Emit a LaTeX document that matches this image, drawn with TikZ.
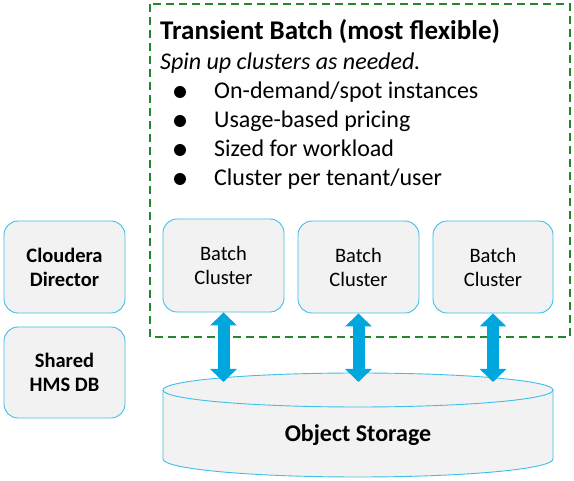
\documentclass[tikz,border=0pt]{standalone}
\usepackage{fontspec}
\setmainfont{Carlito}
\usetikzlibrary{arrows.meta}
\definecolor{boxline}{HTML}{3DBFE8}
\definecolor{boxfill}{HTML}{F2F2F2}
\definecolor{arrowblue}{HTML}{00A6DE}
\definecolor{dashgreen}{HTML}{24872E}
\tikzset{
  rbox/.style={draw=boxline, fill=boxfill, line width=0.9pt, rounded corners=14pt, inner sep=0pt, align=center},
  boxfont/.style={font=\fontsize{20.5}{24}\selectfont},
  boxbold/.style={font=\fontsize{20.5}{24}\selectfont\bfseries},
  biarrow/.style={draw=arrowblue, line width=12pt, {Triangle[width=26pt,length=13pt]}-{Triangle[width=26pt,length=13pt]}},
  bul/.style={anchor=base west, inner sep=0pt, font=\fontsize{24}{28}\selectfont},
  dot/.style={circle, fill=black, inner sep=0pt, minimum size=12pt}
}
\begin{document}
\begin{tikzpicture}[x=1pt,y=-1pt]
\useasboundingbox (0,0) rectangle (574,481);
% dashed group
\draw[dashgreen, line width=1.8pt, dash pattern=on 8pt off 5pt] (150,4) rectangle (570,337);
\node[anchor=base west, inner sep=0pt, font=\fontsize{27}{32}\selectfont\bfseries] (title) at (160,40) {Transient Batch (most flexible)};
\node[anchor=base west, inner sep=0pt, font=\fontsize{24}{28}\selectfont\itshape] (sub) at (160,70) {Spin up clusters as needed.};
\foreach \i/\t/\y in {1/On-demand\slash spot instances/99, 2/Usage-based pricing/128, 3/Sized for workload/157, 4/Cluster per tenant\slash user/186}{
  \node[dot] (dot\i) at (180,\y-7) {};
  \node[bul] (item\i) at (214,\y) {\t};
}
% left boxes
\node[rbox, boxbold, minimum width=121pt, minimum height=92pt] (cd) at (64.5,267) {Cloudera\\Director};
\node[rbox, boxbold, minimum width=121pt, minimum height=91pt] (hms) at (64.5,372.5) {Shared\\HMS DB};
% batch clusters
\node[rbox, boxfont, minimum width=121pt, minimum height=93pt] (b1) at (223.5,265.5) {Batch\\Cluster};
\node[rbox, boxfont, minimum width=121pt, minimum height=92pt] (b2) at (358.5,267) {Batch\\Cluster};
\node[rbox, boxfont, minimum width=120pt, minimum height=92pt] (b3) at (493,267) {Batch\\Cluster};
% object storage cylinder
\fill[boxfill] (163,390) -- (163,459) arc (180:0:195 and 18) -- (553,390) -- cycle;
\draw[boxline, line width=0.9pt] (163,390) -- (163,459) arc (180:0:195 and 18) -- (553,390);
\draw[boxline, fill=boxfill, line width=0.9pt] (358,390) ellipse (195 and 17);
\node[anchor=base, inner sep=0pt, font=\fontsize{24}{28}\selectfont\bfseries] (os) at (358,442) {Object Storage};
\coordinate (ostop) at (358,382);
% arrows
\draw[biarrow] (b1.south) -- (b1.south |- ostop);
\draw[biarrow] (b2.south) -- (b2.south |- ostop);
\draw[biarrow] (b3.south) -- (b3.south |- ostop);
\end{tikzpicture}
\end{document}
